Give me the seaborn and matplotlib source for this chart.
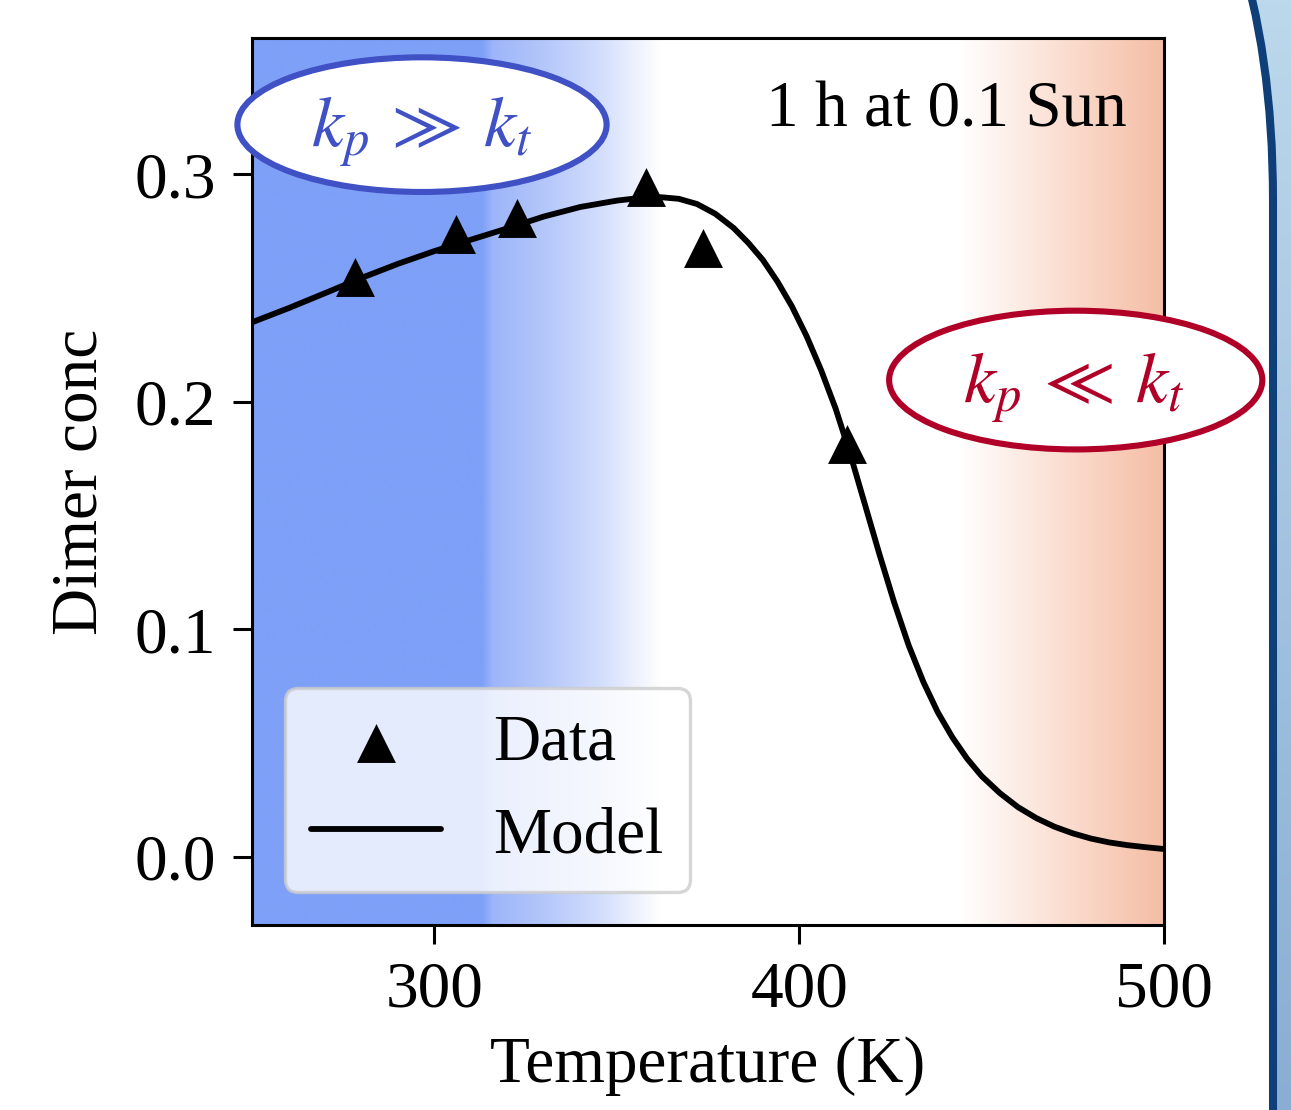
import numpy as np
import pandas as pd
import matplotlib
matplotlib.use("Agg")
import matplotlib.pyplot as plt
import seaborn as sns
from matplotlib.patches import Ellipse, FancyBboxPatch
from matplotlib.colors import LinearSegmentedColormap, to_rgb

# ---------------- data ----------------
data_T = [278.3, 306.0, 322.7, 358.1, 373.5, 413.0]
data_conc = [0.2548, 0.2740, 0.2807, 0.2945, 0.2675, 0.1814]

model_T = [250, 260, 270, 280, 290, 300, 310, 320, 330, 340, 350, 357, 362, 367,
           372, 377, 382, 386, 390, 394, 398, 402, 406, 410, 414, 418, 422, 426,
           430, 434, 438, 442, 446, 450, 455, 460, 465, 470, 475, 480, 485, 490,
           495, 500]
model_conc = [0.2350, 0.2412, 0.2478, 0.2545, 0.2607, 0.2663, 0.2713, 0.2763,
              0.2815, 0.2857, 0.2885, 0.2898, 0.2900, 0.2893, 0.2870, 0.2827,
              0.2765, 0.2700, 0.2625, 0.2530, 0.2420, 0.2290, 0.2140, 0.1970,
              0.1770, 0.1550, 0.1330, 0.1120, 0.0930, 0.0770, 0.0635, 0.0525,
              0.0432, 0.0355, 0.0280, 0.0218, 0.0170, 0.0132, 0.0103, 0.0080,
              0.0063, 0.0051, 0.0042, 0.0034]

x_ticks = [300, 400, 500]
y_ticks = [0.0, 0.1, 0.2, 0.3]
x_label = "Temperature (K)"
y_label = "Dimer conc"
condition_text = "1 h at 0.1 Sun"
legend_labels = ["Data", "Model"]
low_T_label = r"$k_p\:\gg\:k_t$"
high_T_label = r"$k_p\:\ll\:k_t$"

df_data = pd.DataFrame({"T": data_T, "conc": data_conc})
df_model = pd.DataFrame({"T": model_T, "conc": model_conc})

# ---------------- style ----------------
sns.set_style("ticks")
plt.rcParams["font.family"] = ["Liberation Serif", "DejaVu Serif"]
plt.rcParams["mathtext.fontset"] = "stix"
plt.rcParams["text.color"] = "black"
plt.rcParams["axes.labelcolor"] = "black"
plt.rcParams["xtick.color"] = "black"
plt.rcParams["ytick.color"] = "black"
FS = 23.5

W, H, DPI = 1291, 1110, 200
fig = plt.figure(figsize=(W / DPI, H / DPI), dpi=DPI)

# background (slide) with rounded white box
bg = fig.add_axes([0, 0, 1, 1], zorder=-10)
bg.set_xlim(0, W)
bg.set_ylim(H, 0)
bg.axis("off")
grad = np.linspace(0, 1, 256).reshape(-1, 1)
bgcmap = LinearSegmentedColormap.from_list("bg", ["#bcd8ec", "#8aadd3"])
bg.imshow(grad, cmap=bgcmap, extent=[0, W, H, 0], aspect="auto")
R = 589
box = FancyBboxPatch((-900, -389), 1273 + 900, 3000, boxstyle=f"round,pad=0,rounding_size={R}",
                     facecolor="white", edgecolor="#0f3f78", linewidth=2.9)
bg.add_patch(box)

# main axes
ax = fig.add_axes([252 / W, 1 - 925 / H, 912 / W, 887 / H])
xmin, xmax, ymin, ymax = 250, 500, -0.03, 0.36

# horizontal gradient background
stops_T = [250, 313, 316, 330, 345, 362, 444, 470, 500]
stops_c = ["#7ea0f7", "#7ea0f7", "#9db5f9", "#b4c7fa", "#d2ddfc", "#ffffff",
           "#ffffff", "#fbe1d5", "#f5bda4"]
Tg = np.linspace(xmin, xmax, 800)
rgb = np.array([to_rgb(c) for c in stops_c])
img = np.stack([np.interp(Tg, stops_T, rgb[:, i]) for i in range(3)], axis=-1)[None, :, :]
ax.imshow(img, extent=[xmin, xmax, ymin, ymax], aspect="auto", zorder=0, interpolation="bilinear")

sns.lineplot(data=df_model, x="T", y="conc", ax=ax, color="black", linewidth=2.1,
             label=legend_labels[1], zorder=3, sort=False)
sns.scatterplot(data=df_data, x="T", y="conc", ax=ax, marker="^", s=14 ** 2,
                color="black", linewidth=0, label=legend_labels[0], zorder=4)

ax.set_xlim(xmin, xmax)
ax.set_ylim(ymin, ymax)
ax.set_xticks(x_ticks)
ax.set_yticks(y_ticks)
ax.set_yticklabels([f"{v:.1f}" for v in y_ticks])
ax.tick_params(direction="out", length=6.8, width=1.1, labelsize=FS, pad=6, colors="black")
for s in ax.spines.values():
    s.set_linewidth(1.1)
    s.set_color("black")
    s.set_visible(True)
ax.set_xlabel(x_label, fontsize=FS)
ax.set_ylabel(y_label, fontsize=FS)
ax.yaxis.set_label_coords(-0.155, 0.5)
ax.xaxis.set_label_coords(0.5, -0.126)

# legend: Data first, then Model
handles, labels = ax.get_legend_handles_labels()
order = [labels.index(legend_labels[0]), labels.index(legend_labels[1])]
leg = ax.legend([handles[i] for i in order], [labels[i] for i in order],
                loc="lower left", fontsize=FS, frameon=True, fancybox=True,
                framealpha=0.8, edgecolor="#cccccc")
leg.get_frame().set_linewidth(1.2)
for t in leg.get_texts():
    t.set_color("black")

ax.text(0.9594, 0.918, condition_text, transform=ax.transAxes, ha="right",
        va="center", fontsize=FS, zorder=6)

# regime ellipses
e1 = Ellipse((296.6, 0.3219), 101.2, 0.0592, facecolor="white", edgecolor="#3f51c4",
             linewidth=2.2, zorder=7, clip_on=False)
ax.add_patch(e1)
ax.text(296.4, 0.3185, low_T_label, color="#3f51c4", fontsize=26, ha="center",
        va="center", zorder=8)
e2 = Ellipse((475.8, 0.2096), 102.3, 0.061, facecolor="white", edgecolor="#b00028",
             linewidth=2.2, zorder=7, clip_on=False)
ax.add_patch(e2)
ax.text(475.3, 0.2058, high_T_label, color="#b00028", fontsize=26, ha="center",
        va="center", zorder=8, clip_on=False)

fig.savefig("out.png", dpi=DPI)
